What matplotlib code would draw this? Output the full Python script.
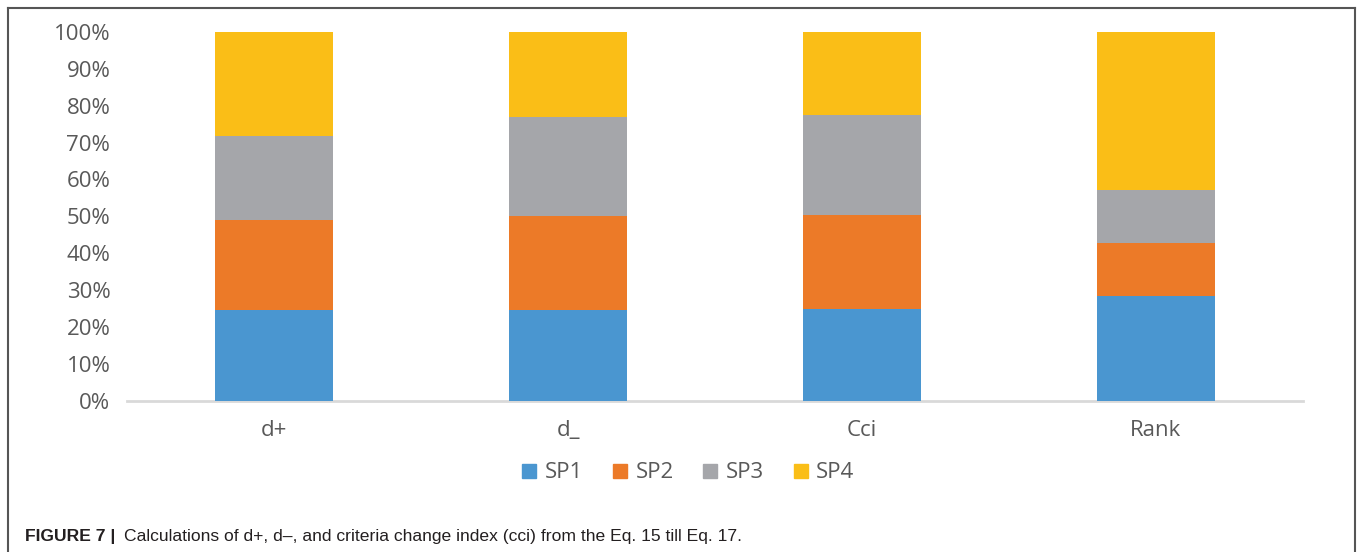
import matplotlib.pyplot as plt
from matplotlib.lines import Line2D
import numpy as np

# share of each scenario per indicator (100% stacked)
categories = ['d+', 'd_', 'Cci', 'Rank']
series_names = ['SP1', 'SP2', 'SP3', 'SP4']
sp1 = [0.247, 0.247, 0.249, 0.285]
sp2 = [0.244, 0.255, 0.255, 0.144]
sp3 = [0.228, 0.267, 0.271, 0.143]
sp4 = [0.281, 0.231, 0.225, 0.428]
colors = ['#4A96D0', '#EC7A28', '#A5A6AA', '#FABE17']

W, H = 1357, 552
fig = plt.figure(figsize=(W / 100, H / 100), dpi=100)

# axes placed in pixel terms
x0, x1 = 127, 1303
y_bot, y_top = 400.7, 32
ax = fig.add_axes([x0 / W, (H - y_bot) / H, (x1 - x0) / W, (y_bot - y_top) / H])

x = np.arange(len(categories))
bottom = np.zeros(len(categories))
for vals, col, name in zip([sp1, sp2, sp3, sp4], colors, series_names):
    ax.bar(x, vals, width=0.4, bottom=bottom, color=col, label=name, zorder=2)
    bottom += np.array(vals)

ax.set_xlim(-0.5, len(categories) - 0.5)
ax.set_ylim(0, 1)
ax.set_yticks(np.arange(0, 1.01, 0.1))
ax.set_yticklabels([f'{int(round(v * 100))}%' for v in np.arange(0, 1.01, 0.1)])
ax.set_xticks(x)
ax.set_xticklabels(categories)

for s in ['top', 'right', 'left']:
    ax.spines[s].set_visible(False)
ax.spines['bottom'].set_color('#D9D9D9')
ax.spines['bottom'].set_linewidth(2)
ax.spines['bottom'].set_zorder(1)
ax.tick_params(axis='both', length=0, labelsize=16, labelcolor='#595959')
ax.tick_params(axis='y', pad=12)
ax.tick_params(axis='x', pad=14)
for lab in ax.get_xticklabels() + ax.get_yticklabels():
    lab.set_fontfamily('Open Sans')

handles = [Line2D([], [], marker='s', linestyle='none', markersize=10,
                  markerfacecolor=c, markeredgecolor=c) for c in colors]
fig.legend(handles, series_names, loc='center', bbox_to_anchor=(688 / W, (H - 473) / H),
           ncol=4, frameon=False, handlelength=0.7, handletextpad=0.35, columnspacing=1.3,
           prop={'family': 'Open Sans', 'size': 16}, labelcolor='#595959')

# figure frame (left, top, right)
frame_kw = dict(color='#555555', linewidth=1.5, transform=fig.transFigure)
fig.add_artist(Line2D([8 / W, 8 / W], [0, 1 - 7.5 / H], **frame_kw))
fig.add_artist(Line2D([8 / W, 1355 / W], [1 - 7.5 / H, 1 - 7.5 / H], **frame_kw))
fig.add_artist(Line2D([1355 / W, 1355 / W], [0, 1 - 7.5 / H], **frame_kw))

fig.text(25 / W, (H - 536) / H, 'FIGURE 7 |', fontsize=12.6, fontweight='bold',
         family='Liberation Sans', color='#231F20', va='center')
fig.text(124 / W, (H - 536) / H,
         'Calculations of d+, d\u2013, and criteria change index (cci) from the Eq. 15 till Eq. 17.',
         fontsize=12.6, family='Liberation Sans', color='#231F20', va='center')

fig.savefig('out.png', dpi=100)
